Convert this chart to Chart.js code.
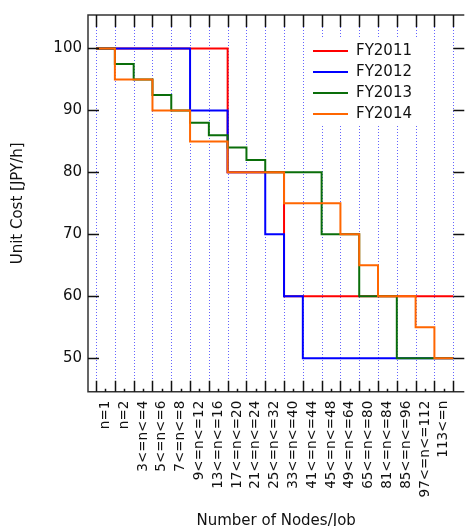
<!DOCTYPE html>
<html>
<head>
<meta charset="utf-8">
<script src="https://cdn.jsdelivr.net/npm/chart.js@4.4.1/dist/chart.umd.min.js"></script>
<style>
  html, body { margin: 0; padding: 0; background: #fff; }
  #wrap { width: 469px; height: 526px; }
</style>
</head>
<body>
<div id="wrap"><canvas id="costChart"></canvas></div>
<script>
const categories = ["n=1", "n=2", "3<=n<=4", "5<=n<=6", "7<=n<=8", "9<=n<=12", "13<=n<=16",
    "17<=n<=20", "21<=n<=24", "25<=n<=32", "33<=n<=40", "41<=n<=44", "45<=n<=48",
    "49<=n<=64", "65<=n<=80", "81<=n<=84", "85<=n<=96", "97<=n<=112", "113<=n"];

const fy2011 = [100, 100, 100, 100, 100, 100, 100, 80, 80, 80, 60, 60, 60, 60, 60, 60, 60, 60, 60];
const fy2012 = [100, 100, 100, 100, 100, 90, 90, 80, 80, 70, 60, 50, 50, 50, 50, 50, 50, 50, 50];
const fy2013 = [100, 97.5, 95, 92.5, 90, 88, 86, 84, 82, 80, 80, 80, 70, 70, 60, 60, 50, 50, 50];
const fy2014 = [100, 95, 95, 90, 90, 85, 85, 80, 80, 80, 75, 75, 75, 70, 65, 60, 60, 55, 50];

const yTicks = [50, 60, 70, 80, 90, 100];

const FONT = "'DejaVu Sans', sans-serif";

// each category holds its value over [i, i+1]
const toSteps = (values) => {
    const pts = values.map((v, i) => ({ x: i, y: v }));
    pts.push({ x: values.length, y: values[values.length - 1] });
    return pts;
};

const series = (label, values, color, order) => ({
    label,
    data: toSteps(values),
    borderColor: color,
    backgroundColor: color,
    borderWidth: 2,
    stepped: true,
    pointRadius: 0,
    fill: false,
    order
});

const framePlugin = {
    id: "frame",
    beforeDatasetsDraw(chart) {
        const { ctx, chartArea: a, scales: { x } } = chart;
        ctx.save();
        ctx.strokeStyle = "rgb(100, 100, 255)";
        ctx.lineWidth = 1;
        ctx.setLineDash([1, 2]);
        for (let i = 0; i <= categories.length; i++) {
            const px = Math.round(x.getPixelForValue(i)) + 0.5;
            ctx.beginPath();
            ctx.moveTo(px, a.top);
            ctx.lineTo(px, a.bottom);
            ctx.stroke();
        }
        ctx.restore();
    },
    afterDatasetsDraw(chart) {
        const { ctx, chartArea: a, scales: { x, y } } = chart;
        ctx.save();

        // legend
        ctx.fillStyle = "#fff";
        ctx.fillRect(308, 38, 112, 88);
        ctx.font = "15px " + FONT;
        ctx.textBaseline = "middle";
        chart.data.datasets.forEach((ds, i) => {
            const ly = 51 + i * 21;
            ctx.strokeStyle = ds.borderColor;
            ctx.lineWidth = 2;
            ctx.beginPath();
            ctx.moveTo(313, ly);
            ctx.lineTo(348, ly);
            ctx.stroke();
            ctx.fillStyle = "#111";
            ctx.fillText(ds.label, 356, ly);
        });

        // frame
        ctx.strokeStyle = "#333";
        ctx.lineWidth = 1.5;
        ctx.beginPath();
        ctx.moveTo(a.right, a.top);
        ctx.lineTo(a.left, a.top);
        ctx.lineTo(a.left, a.bottom);
        ctx.lineTo(a.right, a.bottom);
        ctx.stroke();

        // inward ticks
        ctx.strokeStyle = "#111";
        ctx.beginPath();
        for (let i = 0; i <= categories.length; i++) {
            const px = Math.round(x.getPixelForValue(i)) + 0.5;
            ctx.moveTo(px, a.top);
            ctx.lineTo(px, a.top + 12);
            ctx.moveTo(px, a.bottom);
            ctx.lineTo(px, a.bottom - 11);
        }
        categories.forEach((c, i) => {
            const px = Math.round(x.getPixelForValue(i + 0.5)) + 0.5;
            ctx.moveTo(px, a.bottom);
            ctx.lineTo(px, a.bottom - 3);
        });
        yTicks.forEach(v => {
            const py = Math.round(y.getPixelForValue(v)) + 0.5;
            ctx.moveTo(a.left, py);
            ctx.lineTo(a.left + 11, py);
            ctx.moveTo(a.right - 11, py);
            ctx.lineTo(a.right, py);
        });
        ctx.stroke();
        ctx.restore();
    }
};

const ctx = document.getElementById("costChart").getContext("2d");
const costChart = new Chart(ctx, {
    type: "line",
    data: {
        datasets: [
            series("FY2011", fy2011, "#ff0000", 4),
            series("FY2012", fy2012, "#0000ff", 3),
            series("FY2013", fy2013, "#0a6e0a", 2),
            series("FY2014", fy2014, "#ff6600", 1)
        ]
    },
    options: {
        responsive: true,
        maintainAspectRatio: false,
        animation: false,
        layout: { padding: { top: 8, right: -3, bottom: 0, left: 0 } },
        plugins: {
            legend: { display: false },
            tooltip: { enabled: false }
        },
        scales: {
            x: {
                type: "linear",
                min: -0.43,
                max: 19.59,
                border: { display: false },
                grid: { display: false, drawTicks: false },
                afterBuildTicks: (scale) => {
                    scale.ticks = categories.map((c, i) => ({ value: i + 0.5 }));
                },
                afterFit: (scale) => { scale.height = 134.3; },
                ticks: {
                    autoSkip: false,
                    minRotation: 90,
                    maxRotation: 90,
                    padding: 9,
                    color: "#111",
                    font: { family: FONT, size: 13.5 },
                    callback: (v, i) => categories[i]
                },
                title: {
                    display: true,
                    text: "Number of Nodes/Job",
                    color: "#111",
                    font: { family: FONT, size: 15, lineHeight: 1 },
                    padding: { top: 0, bottom: -3 }
                }
            },
            y: {
                min: 44.6,
                max: 105.4,
                border: { display: false },
                grid: { display: false, drawTicks: false },
                afterBuildTicks: (scale) => {
                    scale.ticks = yTicks.map(v => ({ value: v }));
                },
                afterFit: (scale) => { scale.width = 88; },
                ticks: {
                    padding: 6,
                    color: "#111",
                    font: { family: FONT, size: 15 }
                },
                title: {
                    display: true,
                    text: "Unit Cost [JPY/h]",
                    color: "#111",
                    font: { family: FONT, size: 15 },
                    padding: { top: 9, bottom: 0 }
                }
            }
        }
    },
    plugins: [framePlugin]
});
</script>
</body>
</html>
